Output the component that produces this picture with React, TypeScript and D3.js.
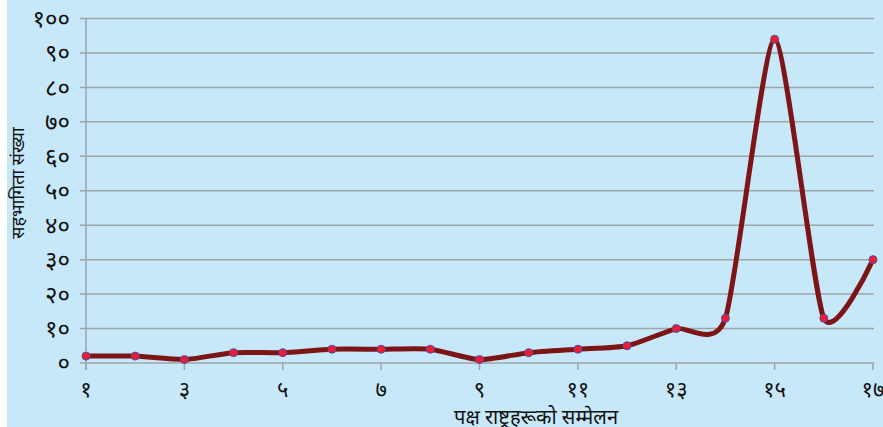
import React, { useEffect, useRef } from 'react';
import * as d3 from 'd3';

// सम्मेलन क्रम (1..17) र सहभागिता संख्या
const sessions = [1, 2, 3, 4, 5, 6, 7, 8, 9, 10, 11, 12, 13, 14, 15, 16, 17];
const participants = [2, 2, 1, 3, 3, 4, 4, 4, 1, 3, 4, 5, 10, 13, 94, 13, 30];
const yTicks = [0, 10, 20, 30, 40, 50, 60, 70, 80, 90, 100];
const xTicks = [1, 3, 5, 7, 9, 11, 13, 15, 17];

const devDigits = ['०', '१', '२', '३', '४', '५', '६', '७', '८', '९'];
const toDev = (n: number) => String(n).split('').map(c => devDigits[+c]).join('');

const App = () => {
    const ref = useRef<SVGSVGElement>(null);

    useEffect(() => {
        const width = 883;
        const height = 427;
        const svg = d3.select(ref.current);
        svg.selectAll('*').remove();
        svg.attr('width', width).attr('height', height);

        const font = '"Noto Sans Devanagari", "Noto Sans", sans-serif';

        svg.append('rect')
            .attr('x', 7).attr('y', 0)
            .attr('width', width - 7).attr('height', height)
            .attr('fill', '#c6e8f8');

        const x = d3.scaleLinear().domain([1, 17]).range([86, 873]);
        const y = d3.scaleLinear().domain([0, 100]).range([363, 18.5]);

        // gridlines
        svg.append('g')
            .selectAll('line')
            .data(yTicks)
            .enter()
            .append('line')
            .attr('x1', 80).attr('x2', 874)
            .attr('y1', d => y(d)).attr('y2', d => y(d))
            .attr('stroke', '#9ea4a8')
            .attr('stroke-width', 1.5);

        // y axis line
        svg.append('line')
            .attr('x1', 86).attr('x2', 86)
            .attr('y1', y(100)).attr('y2', 370)
            .attr('stroke', '#9ea4a8').attr('stroke-width', 1.5);

        // x ticks
        svg.append('g')
            .selectAll('line')
            .data(xTicks)
            .enter()
            .append('line')
            .attr('x1', d => x(d)).attr('x2', d => x(d))
            .attr('y1', y(0)).attr('y2', 370)
            .attr('stroke', '#9ea4a8').attr('stroke-width', 1.5);

        // y labels
        svg.append('g')
            .selectAll('text')
            .data(yTicks)
            .enter()
            .append('text')
            .attr('x', 70)
            .attr('y', d => y(d))
            .attr('dy', '0.35em')
            .attr('text-anchor', 'end')
            .attr('font-family', font)
            .attr('font-size', 24)
            .attr('fill', '#111')
            .text(d => toDev(d));

        // x labels
        svg.append('g')
            .selectAll('text')
            .data(xTicks)
            .enter()
            .append('text')
            .attr('x', d => x(d))
            .attr('y', 389)
            .attr('dy', '0.35em')
            .attr('text-anchor', 'middle')
            .attr('font-family', font)
            .attr('font-size', 22)
            .attr('fill', '#111')
            .text(d => toDev(d));

        // axis titles
        svg.append('text')
            .attr('transform', 'translate(24,183) rotate(-90)')
            .attr('text-anchor', 'middle')
            .attr('font-family', font)
            .attr('font-size', 18)
            .attr('fill', '#111')
            .text('सहभागिता संख्या');

        svg.append('text')
            .attr('x', 536)
            .attr('y', 424)
            .attr('text-anchor', 'middle')
            .attr('font-family', font)
            .attr('font-size', 20)
            .attr('fill', '#111')
            .text('पक्ष राष्ट्रहरूको सम्मेलन');

        const data = sessions.map((s, i) => ({ s, v: participants[i] }));

        const line = d3.line<{ s: number; v: number }>()
            .x(d => x(d.s))
            .y(d => y(d.v))
            .curve(d3.curveCardinal.tension(0.35));

        svg.append('path')
            .datum(data)
            .attr('d', line)
            .attr('fill', 'none')
            .attr('stroke', '#7d1517')
            .attr('stroke-width', 5)
            .attr('stroke-linejoin', 'round');

        svg.append('g')
            .selectAll('circle')
            .data(data)
            .enter()
            .append('circle')
            .attr('cx', d => x(d.s))
            .attr('cy', d => y(d.v))
            .attr('r', 4)
            .attr('fill', '#ee1c2c')
            .attr('stroke', '#4a4fb0')
            .attr('stroke-width', 1);
    }, []);

    return <svg ref={ref} style={{ position: 'absolute', left: 0, top: 0, display: 'block' }} />;
};

export default App;
